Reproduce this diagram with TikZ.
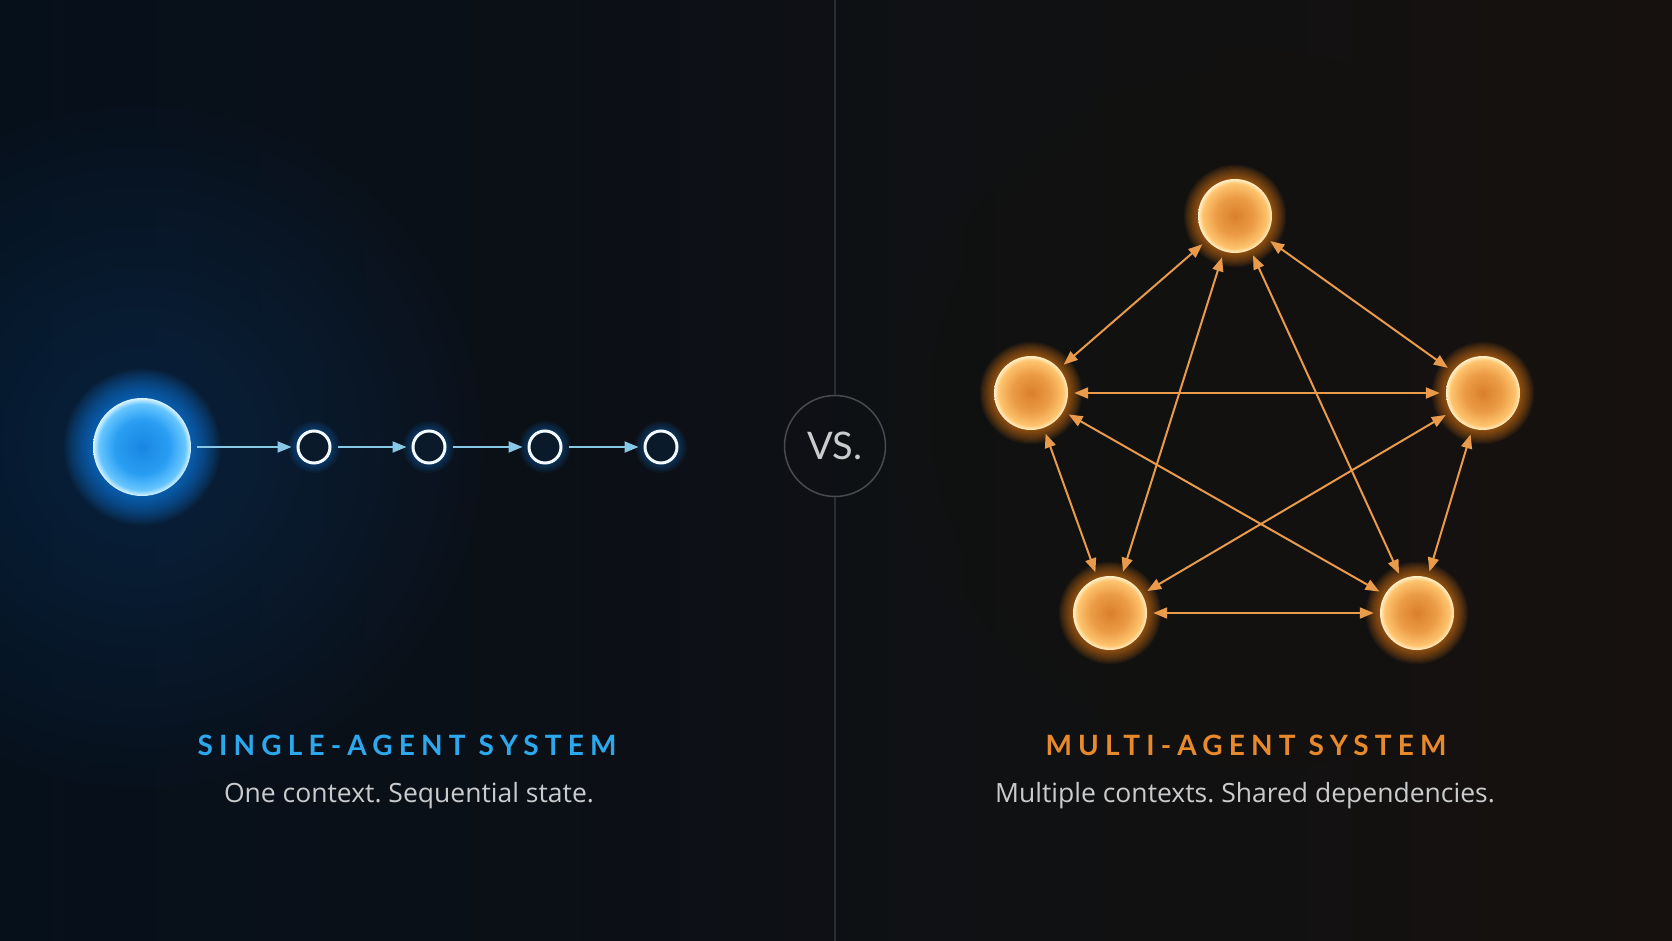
\documentclass[tikz,border=0pt]{standalone}
\usepackage{fontspec}
\setmainfont{Lato}
\newfontfamily\titlefont[LetterSpace=22]{Lato}
\newfontfamily\subfont{Open Sans}
\usetikzlibrary{arrows.meta}
\frenchspacing

% palette
\definecolor{bgleft}{HTML}{06101B}
\definecolor{bgmid}{HTML}{0C1118}
\definecolor{bgright}{HTML}{16110E}
\definecolor{titleblue}{HTML}{2CA9EE}
\definecolor{titleorange}{HTML}{E88A2C}
\definecolor{subgray}{HTML}{C9CBCD}
\definecolor{vsgray}{HTML}{474A4E}
\definecolor{divgray}{HTML}{2A2E33}
\definecolor{arrowblue}{HTML}{86C8E6}
\definecolor{arroworange}{HTML}{E99A4A}
\definecolor{ringwhite}{HTML}{F2FAFF}
\definecolor{ringfill}{HTML}{0B1A2A}
\definecolor{glowblue}{HTML}{1A8CFF}
\definecolor{hazeblue}{HTML}{0D4F9A}
\definecolor{gloworange}{HTML}{FF8A1A}
\definecolor{hazeorange}{HTML}{3A2410}
\definecolor{bluecore}{HTML}{1886E2}
\definecolor{bluemid}{HTML}{2A9EF2}
\definecolor{blueedge}{HTML}{66C6FF}
\definecolor{bluerim}{HTML}{DDF5FF}
\definecolor{orangecore}{HTML}{D97F2C}
\definecolor{orangemid}{HTML}{EC9C46}
\definecolor{orangeedge}{HTML}{FFC46E}
\definecolor{orangerim}{HTML}{FFF1CC}

\pgfdeclareradialshading{bluedisc}{\pgfpoint{0bp}{0bp}}{color(0bp)=(bluecore); color(14bp)=(bluemid); color(22bp)=(blueedge); color(25bp)=(bluerim); color(50bp)=(bluerim)}
\pgfdeclareradialshading{orangedisc}{\pgfpoint{0bp}{0bp}}{color(0bp)=(orangecore); color(13bp)=(orangemid); color(22bp)=(orangeedge); color(25bp)=(orangerim); color(50bp)=(orangerim)}

% stacked soft circles as a glow
\newcommand{\glowat}[6]{\foreach \k in {1,...,#5}{\fill[#1, opacity=#6] (#2) circle[radius={#3+\k*#4}];}}

\begin{document}
\begin{tikzpicture}[x=1pt, y=-1pt,
  ringnode/.style={circle, draw=ringwhite, line width=3pt, fill=ringfill, minimum size=32pt, inner sep=0pt},
  agentnode/.style={circle, shade, shading=orangedisc, minimum size=74pt, inner sep=0pt},
  seqarrow/.style={draw=arrowblue, line width=2pt, -{Triangle[length=14pt,width=11pt]}, shorten <=6pt, shorten >=5pt},
  linkarrow/.style={draw=arroworange, line width=2pt, {Triangle[length=14pt,width=11pt]}-{Triangle[length=14pt,width=11pt]}, shorten <=6pt, shorten >=6pt},
  divline/.style={draw=divgray, line width=1.2pt}]

\useasboundingbox (0,0) rectangle (1672,941);

% background
\shade[left color=bgleft, middle color=bgmid, right color=bgright] (0,0) rectangle (1672,941);

% left: single agent chain
\coordinate (pBig) at (142,447);
\glowat{hazeblue}{pBig}{60}{20}{14}{0.022}
\glowat{glowblue}{pBig}{49}{1.8}{16}{0.055}
\node[circle, shade, shading=bluedisc, minimum size=98pt, inner sep=0pt] (big) at (pBig) {};

\foreach \x [count=\i] in {314,429,545,661} {
  \coordinate (p\i) at (\x,447);
  \glowat{glowblue}{p\i}{17}{1.5}{6}{0.05}
  \node[ringnode] (s\i) at (p\i) {};
}

\draw[seqarrow] (big) -- (s1);
\draw[seqarrow] (s1) -- (s2);
\draw[seqarrow] (s2) -- (s3);
\draw[seqarrow] (s3) -- (s4);

\node[text=titleblue, font=\titlefont\bfseries\fontsize{28}{34}\selectfont, anchor=base] (singletitle) at (407,755) {SINGLE-AGENT SYSTEM};
\node[text=subgray, font=\subfont\fontsize{26.5}{32}\selectfont, anchor=base] (singlesub) at (409,802) {One context. Sequential state.};

% middle: divider and VS badge
\node[circle, draw=vsgray, line width=1.5pt, minimum size=101pt, inner sep=0pt, text=subgray, font=\fontsize{38}{44}\selectfont] (vs) at (835,446) {VS.};
\coordinate (divtop) at (835,0);
\coordinate (divbot) at (835,941);
\draw[divline] (divtop) -- (vs.north);
\draw[divline] (vs.south) -- (divbot);

% right: multi agent pentagon
\coordinate (hazeR) at (1250,410);
\glowat{hazeorange}{hazeR}{80}{20}{14}{0.015}

\coordinate (qT) at (1235,216);
\coordinate (qL) at (1031,393);
\coordinate (qR) at (1483,393);
\coordinate (qBL) at (1110,613);
\coordinate (qBR) at (1417,613);

\foreach \n in {T,L,R,BL,BR} {
  \glowat{gloworange}{q\n}{37}{1.1}{13}{0.055}
  \node[agentnode] (agent\n) at (q\n) {};
}

% every agent talks to every other one
\foreach \a/\b in {T/L, T/R, L/R, T/BL, T/BR, L/BR, R/BL, L/BL, R/BR, BL/BR}
  \draw[linkarrow] (agent\a) -- (agent\b);

\node[text=titleorange, font=\titlefont\bfseries\fontsize{28}{34}\selectfont, anchor=base] (multititle) at (1246,755) {MULTI-AGENT SYSTEM};
\node[text=subgray, font=\subfont\fontsize{26.5}{32}\selectfont, anchor=base] (multisub) at (1245,802) {Multiple contexts. Shared dependencies.};

\end{tikzpicture}
\end{document}
